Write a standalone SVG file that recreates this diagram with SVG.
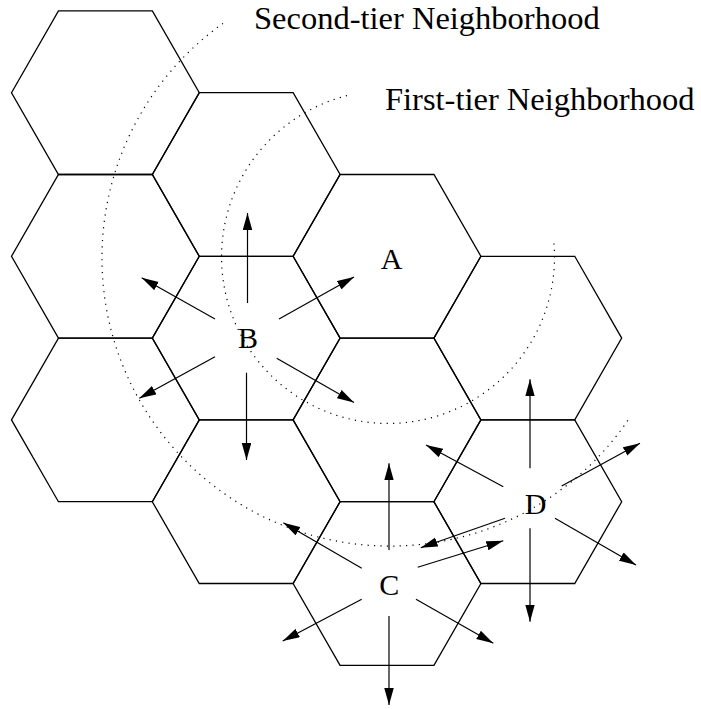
<svg xmlns="http://www.w3.org/2000/svg" width="701" height="709" viewBox="0 0 701 709">
<style>
.hex{fill:none;stroke:#000;stroke-width:1.3;stroke-linejoin:miter}
.lbl{font-family:"Liberation Serif","Times New Roman",serif;font-size:30px;fill:#000;text-anchor:middle}
.title{font-family:"Liberation Serif","Times New Roman",serif;font-size:32.5px;fill:#000}
.arr{stroke:#000;stroke-width:1.2;fill:none;marker-end:url(#ah)}
.dot{fill:none;stroke:#000;stroke-width:1.2;stroke-dasharray:1.2 5.2}
</style>
<defs>
<marker id="ah" markerUnits="userSpaceOnUse" markerWidth="18" markerHeight="10" refX="17" refY="4.75" orient="auto">
<path d="M0,0 L17,4.75 L0,9.5 z" fill="#000"/>
</marker>
</defs>
<rect width="701" height="709" fill="#fff"/>
<g id="hex-c0r0"><polygon class="hex" points="11.5,92.7 58.45,10.9 152.35,10.9 199.3,92.7 152.35,174.5 58.45,174.5"/></g>
<g id="hex-c0r1"><polygon class="hex" points="11.5,256.3 58.45,174.5 152.35,174.5 199.3,256.3 152.35,338.1 58.45,338.1"/></g>
<g id="hex-c0r2"><polygon class="hex" points="11.5,419.9 58.45,338.1 152.35,338.1 199.3,419.9 152.35,501.7 58.45,501.7"/></g>
<g id="hex-c1r0"><polygon class="hex" points="152.3,174.5 199.25,92.7 293.15,92.7 340.1,174.5 293.15,256.3 199.25,256.3"/></g>
<g id="hex-B"><polygon class="hex" points="152.3,338.1 199.25,256.3 293.15,256.3 340.1,338.1 293.15,419.9 199.25,419.9"/><text class="lbl" x="248" y="348.3">B</text></g>
<g id="hex-c1r2"><polygon class="hex" points="152.3,501.7 199.25,419.9 293.15,419.9 340.1,501.7 293.15,583.5 199.25,583.5"/></g>
<g id="hex-A"><polygon class="hex" points="293.1,256.3 340.05,174.5 433.95,174.5 480.9,256.3 433.95,338.1 340.05,338.1"/><text class="lbl" x="391.7" y="268.5">A</text></g>
<g id="hex-c2r1"><polygon class="hex" points="293.1,419.9 340.05,338.1 433.95,338.1 480.9,419.9 433.95,501.7 340.05,501.7"/></g>
<g id="hex-C"><polygon class="hex" points="293.1,583.5 340.05,501.7 433.95,501.7 480.9,583.5 433.95,665.3 340.05,665.3"/><text class="lbl" x="389.2" y="594.5">C</text></g>
<g id="hex-c3r0"><polygon class="hex" points="433.9,338.1 480.85,256.3 574.75,256.3 621.7,338.1 574.75,419.9 480.85,419.9"/></g>
<g id="hex-D"><polygon class="hex" points="433.9,501.7 480.85,419.9 574.75,419.9 621.7,501.7 574.75,583.5 480.85,583.5"/><text class="lbl" x="535.5" y="514.3">D</text></g>
<g id="neighborhoods">
<path class="dot" d="M347,95.6 A166.5,166.5 0 1 0 553.9,242.5"/>
<path class="dot" d="M223,23.4 A288,288 0 1 0 629.6,417.8"/>
<text class="title" x="254" y="29">Second-tier Neighborhood</text>
<text class="title" x="385" y="110">First-tier Neighborhood</text>
</g>
<g id="connectors">
<line class="arr" x1="247.5" y1="303" x2="247.5" y2="213"/>
<line class="arr" x1="215" y1="319" x2="141.7" y2="277.7"/>
<line class="arr" x1="279" y1="319" x2="354" y2="277"/>
<line class="arr" x1="215" y1="356.7" x2="139.3" y2="398.3"/>
<line class="arr" x1="246.5" y1="372.7" x2="246.5" y2="460"/>
<line class="arr" x1="276.7" y1="358.3" x2="354" y2="402.5"/>
<line class="arr" x1="389" y1="550" x2="389" y2="463.3"/>
<line class="arr" x1="389" y1="616" x2="389" y2="705"/>
<line class="arr" x1="416" y1="599.3" x2="493.3" y2="643.3"/>
<line class="arr" x1="417.7" y1="567.3" x2="503.3" y2="540.7"/>
<line class="arr" x1="361.7" y1="568.3" x2="283.3" y2="522.7"/>
<line class="arr" x1="361.7" y1="599.3" x2="282.7" y2="641"/>
<line class="arr" x1="530" y1="468.3" x2="530" y2="379.3"/>
<line class="arr" x1="530" y1="528.3" x2="530" y2="621.7"/>
<line class="arr" x1="503.3" y1="486.7" x2="426" y2="445"/>
<line class="arr" x1="561.7" y1="486" x2="640" y2="443.3"/>
<line class="arr" x1="555" y1="518.3" x2="636" y2="565"/>
<line class="arr" x1="505" y1="518.3" x2="420.7" y2="547.7"/>
</g>
</svg>
